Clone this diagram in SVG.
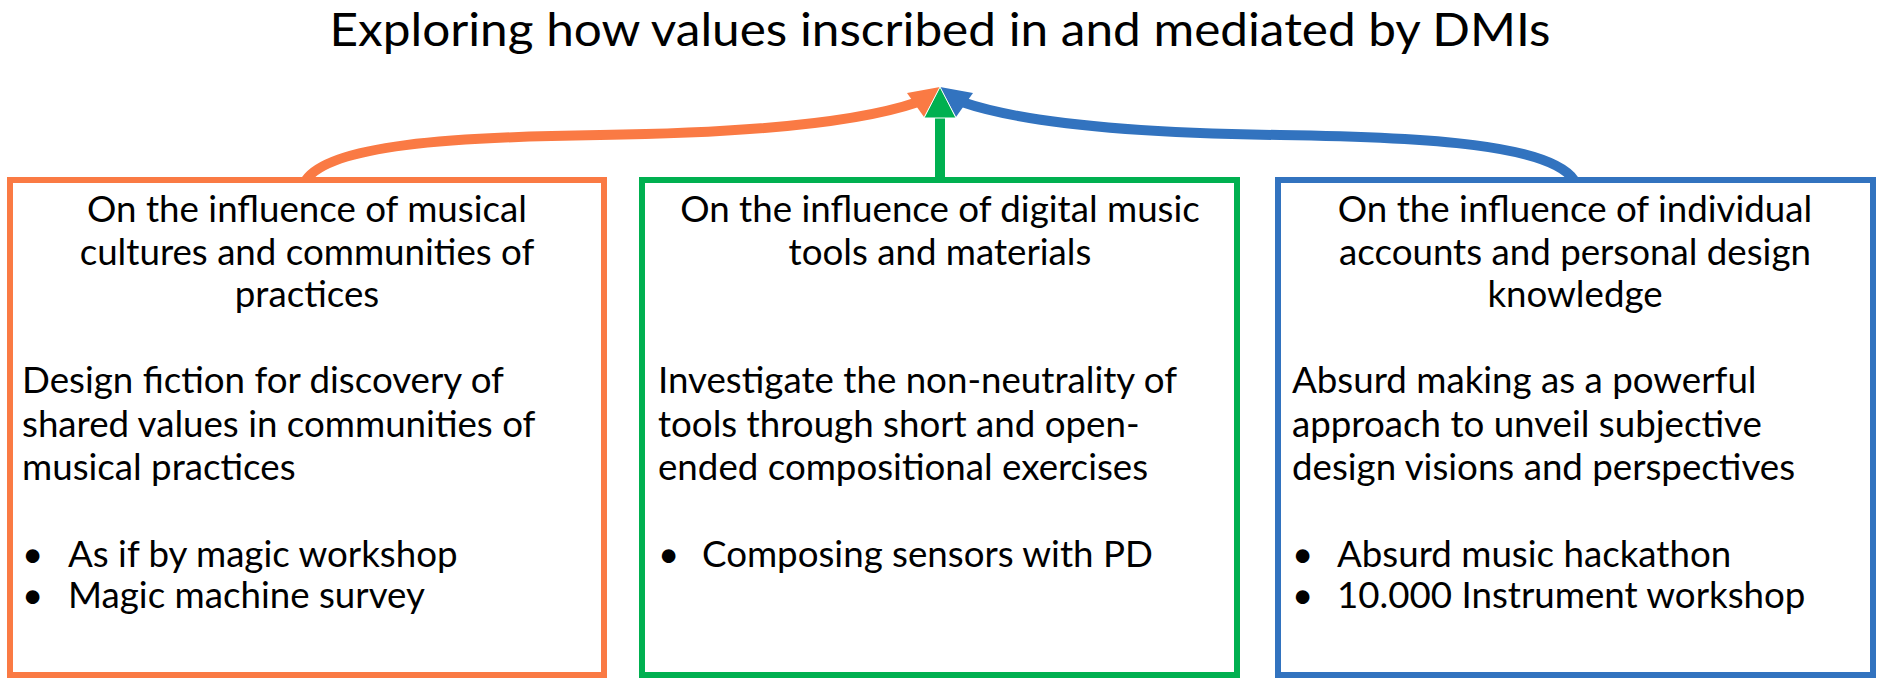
<svg xmlns="http://www.w3.org/2000/svg" width="1883" height="688" viewBox="0 0 1883 688">
<style>
.t{font-family:Lato,"Open Sans","Liberation Sans",sans-serif;fill:#000}
.title{font-size:46px}
.h{font-size:36.7px;text-anchor:middle}
.b{font-size:36.7px}
.box{fill:#fff;stroke-width:6}
</style>
<rect width="1883" height="688" fill="#fff"/>
<text class="t title" x="940" y="46" text-anchor="middle" textLength="1221" lengthAdjust="spacingAndGlyphs">Exploring how values inscribed in and mediated by DMIs</text>
<g id="connectors">
<path d="M 306 180 C 330 145, 450 137, 600 135 C 750 133, 860 122, 918 102" fill="none" stroke="#FA7A44" stroke-width="10"/>
<path d="M 1574 180 C 1550 145, 1430 137, 1280 135 C 1130 133, 1020 122, 962 102" fill="none" stroke="#3273BF" stroke-width="10"/>
<path d="M 940 180 L 940 114" fill="none" stroke="#00B050" stroke-width="10"/>
<polygon points="940,87 907,93 924,117" fill="#FA7A44"/>
<polygon points="940,87 973,93 956,117" fill="#3273BF"/>
<polygon points="940,87 956,118 924,118" fill="#00B050" stroke="#fff" stroke-width="1"/>
</g>
<g id="node-cultures">
<rect class="box" x="10" y="180" width="594" height="495" stroke="#FA7A44"/>
<text class="t h" x="307" y="222">On the influence of musical</text>
<text class="t h" x="307" y="265">cultures and communities of</text>
<text class="t h" x="307" y="307">practices</text>
<text class="t b" x="22" y="393">Design fiction for discovery of</text>
<text class="t b" x="22" y="437">shared values in communities of</text>
<text class="t b" x="22" y="480">musical practices</text>
<text class="t b" x="22" y="567">•</text>
<text class="t b" x="68" y="567">As if by magic workshop</text>
<text class="t b" x="22" y="608">•</text>
<text class="t b" x="68" y="608">Magic machine survey</text>
</g>
<g id="node-tools">
<rect class="box" x="642" y="180" width="595" height="495" stroke="#00B050"/>
<text class="t h" x="940" y="222">On the influence of digital music</text>
<text class="t h" x="940" y="265">tools and materials</text>
<text class="t b" x="658" y="393">Investigate the non-neutrality of</text>
<text class="t b" x="658" y="437">tools through short and open-</text>
<text class="t b" x="658" y="480">ended compositional exercises</text>
<text class="t b" x="658" y="567">•</text>
<text class="t b" x="702" y="567">Composing sensors with PD</text>
</g>
<g id="node-individual">
<rect class="box" x="1278" y="180" width="595" height="495" stroke="#3273BF"/>
<text class="t h" x="1575" y="222">On the influence of individual</text>
<text class="t h" x="1575" y="265">accounts and personal design</text>
<text class="t h" x="1575" y="307">knowledge</text>
<text class="t b" x="1292" y="393">Absurd making as a powerful</text>
<text class="t b" x="1292" y="437">approach to unveil subjective</text>
<text class="t b" x="1292" y="480">design visions and perspectives</text>
<text class="t b" x="1292" y="567">•</text>
<text class="t b" x="1337" y="567">Absurd music hackathon</text>
<text class="t b" x="1292" y="608">•</text>
<text class="t b" x="1337" y="608">10.000 Instrument workshop</text>
</g>
</svg>
